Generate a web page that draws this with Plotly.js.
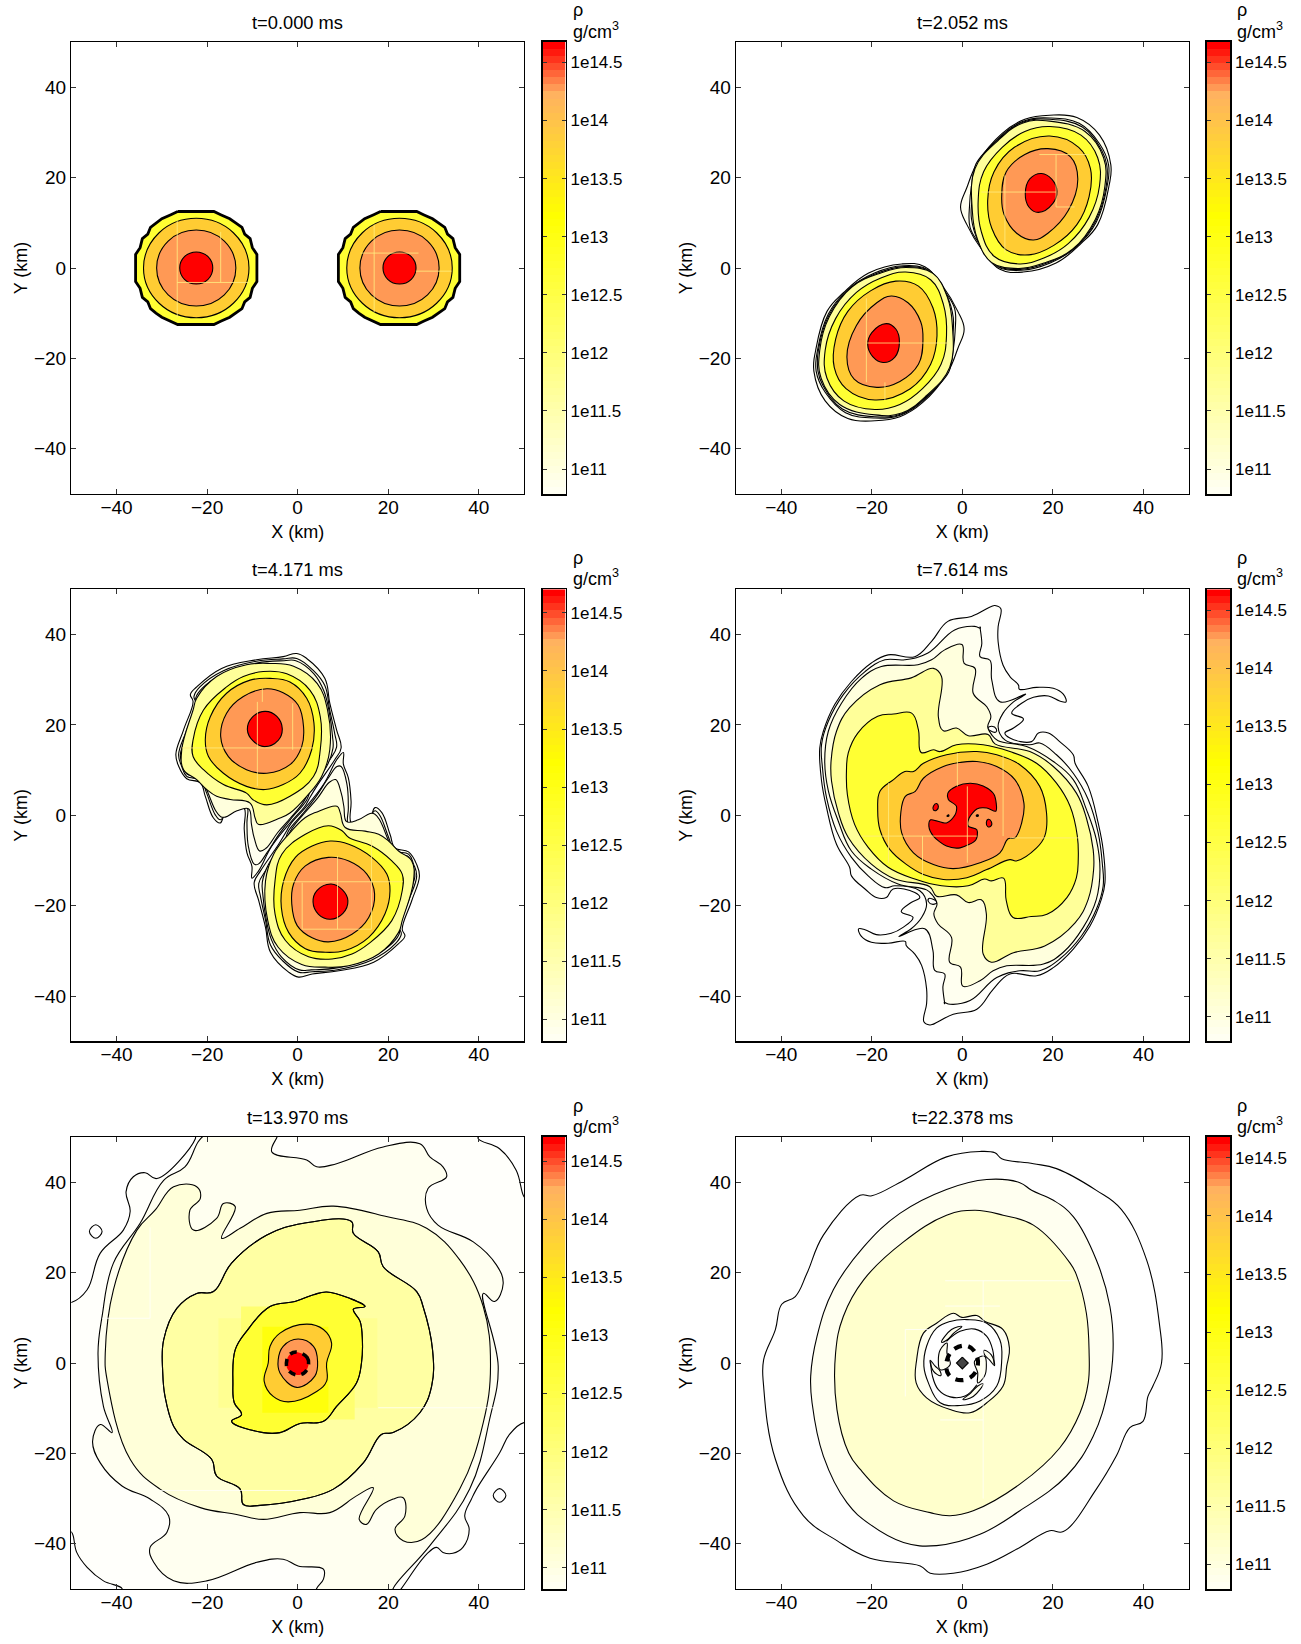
<!DOCTYPE html>
<html><head><meta charset="utf-8">
<script src="https://cdn.plot.ly/plotly-3.0.1.min.js"></script>
<style>html,body{margin:0;padding:0;background:#fff}</style></head>
<body><div id="g" style="width:1301px;height:1644px"></div>
<script>
const titles=['t=0.000 ms','t=2.052 ms','t=4.171 ms','t=7.614 ms','t=13.970 ms','t=22.378 ms'];
const colorTicks=[11,11.5,12,12.5,13,13.5,14,14.5];
const colorTickText=['1e11','1e11.5','1e12','1e12.5','1e13','1e13.5','1e14','1e14.5'];
const colorTop=[14.676,14.676,14.703,14.68,14.708,14.68];
const c0='#fffffb',c1='#fffff0',c2='#ffffdd',c3='#ffff99',c4='#ffff33',gold='#ffcc33',orange='#ff9955',red='#ff0000';
// panel 1
const p1RedL=[-22.4,3.55,-19.8,2.5,-18.75,0,-19.8,-2.5,-22.4,-3.55,-25,-2.5,-26.05,0,-25,2.5];
const p1OrL=[-22.4,8.4,-16.2,5.95,-13.65,0,-16.2,-5.95,-22.4,-8.4,-28.6,-5.95,-31.15,0,-28.6,5.95];
const p1GoL=[-22.4,11,-14.2,7.8,-10.75,0,-14.2,-7.8,-22.4,-11,-30.6,-7.8,-34.05,0,-30.6,7.8];
const p1YeL=[-26.5,12.5,-18.5,12.5,-17,11.8,-15,10.9,-13.7,10,-12.3,9,-11.7,7.5,-10.5,6.5,-10,4.5,-9,3,-9,-3,-10,-4.5,-10.5,-6.5,-11.7,-7.5,-12.3,-9,-13.7,-10,-15,-10.9,-17,-11.8,-18.5,-12.5,-26.5,-12.5,-28,-11.8,-30,-10.9,-31.3,-10,-32.5,-9,-33.1,-7.5,-34.3,-6.5,-34.8,-4.5,-35.8,-3,-35.8,3,-34.8,4.5,-34.3,6.5,-33.1,7.5,-32.5,9,-31.3,10,-30,10.9,-28,11.8];
const p1RedR=[22.5,3.55,25.1,2.5,26.15,0,25.1,-2.5,22.5,-3.55,19.9,-2.5,18.85,0,19.9,2.5];
const p1OrR=[22.5,8.4,28.7,5.95,31.25,0,28.7,-5.95,22.5,-8.4,16.3,-5.95,13.75,0,16.3,5.95];
const p1GoR=[22.5,11,30.7,7.8,34.15,0,30.7,-7.8,22.5,-11,14.3,-7.8,10.85,0,14.3,7.8];
const p1YeR=[18.3,12.5,26.3,12.5,27.8,11.8,29.8,10.9,31.1,10,32.5,9,33.1,7.5,34.3,6.5,34.8,4.5,35.8,3,35.8,-3,34.8,-4.5,34.3,-6.5,33.1,-7.5,32.5,-9,31.1,-10,29.8,-10.9,27.8,-11.8,26.3,-12.5,18.3,-12.5,16.8,-11.8,14.8,-10.9,13.5,-10,12.3,-9,11.7,-7.5,10.5,-6.5,10,-4.5,9,-3,9,3,10,4.5,10.5,6.5,11.7,7.5,12.3,9,13.5,10,14.8,10.9,16.8,11.8];
const p1Amr=[-26.6,10.4,-26.6,-10.9,null,null,-26.6,-3.2,-10.8,-3.2,null,null,-17,8,-17,-3.2,null,null,16.9,9.6,16.9,-9.8,null,null,13.9,3.3,26.7,3.3,null,null,26.1,-0.7,34,-0.7];
// panel 2
const p2RedA=[17.5,20.9,19.8,19.6,20.9,17,20,14.3,16.8,12.3,14.7,13.5,13.9,16.4,14.9,19.7];
const p2OrA=[18.9,26.4,23.9,24.6,25.5,19.7,23.4,12.7,18.9,7.7,15.7,6.2,12,7.7,9.2,11.9,8.7,15.8,9.7,21.3,13.8,25.1];
const p2GoA=[19.3,29.2,25.7,26.7,28.3,22,28,15.8,25.3,9.6,20.2,5,14.7,2.9,9.7,4,6.5,8.8,5.6,15,7,21.3,11.5,26.7];
const p2YeA=[19.3,31.3,26.2,29.4,29.9,24.4,30.3,18.2,28,11.2,23.4,5.4,18,2.2,12.5,0.9,7,2.6,4.2,8,3.5,15,4.7,21.3,8.8,26.7,13.8,30.2];
const p2PaA=[19.3,32.5,27.1,30.2,31.2,24.4,31.5,18.2,29.4,10.8,24.4,4.2,18,1.1,12.5,-0.1,6.5,1.2,3.3,6.5,2.2,12.7,2.8,22,7.9,28.2,13.4,32.1];
const p2InA=[19.3,32.9,26.5,31.2,30.8,26,31.9,22.8,31.8,18.2,29.5,10.5,24.9,4.5,18.7,1.1,12.8,-0.3,7,0.8,3.5,5.9,2,11,2.1,15,2.4,20,3,23,8.1,28.6,13.5,32.3];
const p2MiA=[19.3,33.2,25.8,32,30.3,27.5,32.3,22.8,32,18.2,29.6,10.2,25.3,4.8,19.4,1.1,13,-0.5,7.4,0.5,3.8,5.3,1.7,9,1.6,14,2,18,3,22.6,8.3,29,13.6,32.5];
const p2OuA=[19.3,33.8,25.3,33.3,30.3,29.4,32.8,22.8,32.4,18.2,29.9,9.6,26.2,5.4,20.7,1.1,13.4,-0.9,8.3,-0.3,4.2,4.2,1,9.6,-0.4,13.5,1,17.8,3.3,23.2,8.8,29.8,13.8,32.9];
const p2RedB=[-17.5,-20.9,-19.8,-19.6,-20.9,-17,-20,-14.3,-16.8,-12.3,-14.7,-13.5,-13.9,-16.4,-14.9,-19.7];
const p2OrB=[-18.9,-26.4,-23.9,-24.6,-25.5,-19.7,-23.4,-12.7,-18.9,-7.7,-15.7,-6.2,-12,-7.7,-9.2,-11.9,-8.7,-15.8,-9.7,-21.3,-13.8,-25.1];
const p2GoB=[-19.3,-29.2,-25.7,-26.7,-28.3,-22,-28,-15.8,-25.3,-9.6,-20.2,-5,-14.7,-2.9,-9.7,-4,-6.5,-8.8,-5.6,-15,-7,-21.3,-11.5,-26.7];
const p2YeB=[-19.3,-31.3,-26.2,-29.4,-29.9,-24.4,-30.3,-18.2,-28,-11.2,-23.4,-5.4,-18,-2.2,-12.5,-0.9,-7,-2.6,-4.2,-8,-3.5,-15,-4.7,-21.3,-8.8,-26.7,-13.8,-30.2];
const p2PaB=[-19.3,-32.5,-27.1,-30.2,-31.2,-24.4,-31.5,-18.2,-29.4,-10.8,-24.4,-4.2,-18,-1.1,-12.5,0.1,-6.5,-1.2,-3.3,-6.5,-2.2,-12.7,-2.8,-22,-7.9,-28.2,-13.4,-32.1];
const p2InB=[-19.3,-32.9,-26.5,-31.2,-30.8,-26,-31.9,-22.8,-31.8,-18.2,-29.5,-10.5,-24.9,-4.5,-18.7,-1.1,-12.8,0.3,-7,-0.8,-3.5,-5.9,-2,-11,-2.1,-15,-2.4,-20,-3,-23,-8.1,-28.6,-13.5,-32.3];
const p2MiB=[-19.3,-33.2,-25.8,-32,-30.3,-27.5,-32.3,-22.8,-32,-18.2,-29.6,-10.2,-25.3,-4.8,-19.4,-1.1,-13,0.5,-7.4,-0.5,-3.8,-5.3,-1.7,-9,-1.6,-14,-2,-18,-3,-22.6,-8.3,-29,-13.6,-32.5];
const p2OuB=[-19.3,-33.8,-25.3,-33.3,-30.3,-29.4,-32.8,-22.8,-32.4,-18.2,-29.9,-9.6,-26.2,-5.4,-20.7,-1.1,-13.4,0.9,-8.3,0.3,-4.2,-4.2,-1,-9.6,0.4,-13.5,-1,-17.8,-3.3,-23.2,-8.8,-29.8,-13.8,-32.9];
const p2Amr=[9.4,20.5,9.4,3.4,null,null,4.2,16.8,20.7,16.8,null,null,20.7,25.1,20.7,13.5,null,null,20.7,13.5,24.8,13.5,null,null,17,25.1,28,25.1,null,null,-21,-16.6,-3.1,-16.6,null,null,-21.2,-6.7,-21.2,-25.3,null,null,-17.1,-25.3,-17.1,-29.2];
// panel 3
const p3RedA=[-7.2,23,-4.6,21.9,-3.4,19.2,-4.3,16.6,-7.4,15.2,-9.9,16.5,-11.1,18.9,-10,21.7];
const p3OrA=[-6.8,28,-3.2,27.1,0.1,24.4,1.3,19.6,0.9,15.2,-1.7,11.2,-6.8,9.3,-11.3,10.1,-15.3,13,-17,17.4,-15.7,22.6,-12,26.3];
const p3GoA=[-6.1,30.3,-1.7,29.5,2,25.9,3.6,20.4,3.1,14.5,0.5,9.3,-3.2,6.8,-7.2,5.7,-11.3,6.4,-16.4,9.3,-19.7,13,-20.4,16.7,-19.3,21.8,-15.7,27,-10.5,29.9];
const p3YeA=[-7.6,31.8,-2.4,31.3,2.7,27.7,5,21.8,5,14.5,3.5,8.6,-1.7,4.2,-6.8,2.3,-9.8,3.4,-11.3,4.9,-16.4,6.8,-20.8,10.1,-23.1,13,-23.1,16.7,-20.8,23.3,-15.7,28.4,-12,30.7];
const p3PaA=[-6.1,33.6,-0.9,33,4.3,29.2,6.6,23.3,7.1,14.5,5.3,8.6,2,4.2,-1.7,0.5,-3.9,-0.6,-8.7,-2,-9.4,-0.6,-10.5,2.7,-14.9,3.5,-17.9,4.2,-20.1,5.7,-22.3,7.9,-25.2,10.1,-25.6,14.5,-23.1,23.3,-22.3,25.9,-17.9,30.7,-11.3,33.3];
const p3InA=[-0.4,34.2,3.6,31.3,5.8,27.5,7,22.7,7.7,17.5,7.8,14.8,6.4,10.8,3,6.2,1.2,2.8,-1.6,-0.6,-4.4,-3.8,-7,-7.3,-8.4,-7.9,-9.6,-5,-10.2,-2,-10.8,1.4,-13.4,1,-16,-0.4,-17,-0.3,-18.1,1,-19.9,5.2,-21.3,8.3,-24.5,9.2,-25.6,11.7,-25.9,13.5,-24,19,-22.3,24.6,-22.5,26,-21,28.2,-16,31.5,-9,33.7,-3,34.2];
const p3MiA=[-0.2,34.7,3.4,32.1,6,28.7,7.1,23.2,8.2,18,8.6,15.1,7.1,12.3,3.4,7.2,2,3.4,-1,-0.2,-3.9,-3.9,-6.8,-8.3,-8.7,-10.8,-9.6,-10.8,-10.9,-6.8,-11.2,-1.7,-11.2,1.8,-13.4,1.4,-16,0.1,-17.1,-1,-18.2,0.1,-20.1,4.9,-21.4,7.8,-24.5,8.6,-25.6,10.8,-26.3,13.4,-24.5,18.9,-22.5,24.8,-22.9,26.3,-21.6,28.4,-16.4,32,-9.1,34.1,-3.2,34.6];
const p3OuA=[-0.2,35.8,2,34.7,6,30.3,7.1,24.8,8.6,18.9,9.6,14.9,8.2,12.3,4.2,6.4,2.4,3.4,1.6,2,-1.7,-1.7,-5.7,-6.8,-8.7,-12.4,-10.1,-13.9,-10.1,-11.3,-11.2,-8.3,-11.8,-3.1,-11.8,1.6,-13.4,2.1,-16,0.5,-17.1,-1.7,-18.6,-0.6,-20.4,4.2,-21.5,7.2,-24.5,8.1,-26.3,10.9,-26.9,13.5,-25.2,18.9,-23.1,25.2,-23.7,26.7,-22.3,28.4,-16.8,32.5,-9.1,34.4,-3.2,35.1];
const p3RedB=[7.2,-23,4.6,-21.9,3.4,-19.2,4.3,-16.6,7.4,-15.2,9.9,-16.5,11.1,-18.9,10,-21.7];
const p3OrB=[6.8,-28,3.2,-27.1,-0.1,-24.4,-1.3,-19.6,-0.9,-15.2,1.7,-11.2,6.8,-9.3,11.3,-10.1,15.3,-13,17,-17.4,15.7,-22.6,12,-26.3];
const p3GoB=[6.1,-30.3,1.7,-29.5,-2,-25.9,-3.6,-20.4,-3.1,-14.5,-0.5,-9.3,3.2,-6.8,7.2,-5.7,11.3,-6.4,16.4,-9.3,19.7,-13,20.4,-16.7,19.3,-21.8,15.7,-27,10.5,-29.9];
const p3YeB=[7.6,-31.8,2.4,-31.3,-2.7,-27.7,-5,-21.8,-5,-14.5,-3.5,-8.6,1.7,-4.2,6.8,-2.3,9.8,-3.4,11.3,-4.9,16.4,-6.8,20.8,-10.1,23.1,-13,23.1,-16.7,20.8,-23.3,15.7,-28.4,12,-30.7];
const p3PaB=[6.1,-33.6,0.9,-33,-4.3,-29.2,-6.6,-23.3,-7.1,-14.5,-5.3,-8.6,-2,-4.2,1.7,-0.5,3.9,0.6,8.7,2,9.4,0.6,10.5,-2.7,14.9,-3.5,17.9,-4.2,20.1,-5.7,22.3,-7.9,25.2,-10.1,25.6,-14.5,23.1,-23.3,22.3,-25.9,17.9,-30.7,11.3,-33.3];
const p3InB=[0.4,-34.2,-3.6,-31.3,-5.8,-27.5,-7,-22.7,-7.7,-17.5,-7.8,-14.8,-6.4,-10.8,-3,-6.2,-1.2,-2.8,1.6,0.6,4.4,3.8,7,7.3,8.4,7.9,9.6,5,10.2,2,10.8,-1.4,13.4,-1,16,0.4,17,0.3,18.1,-1,19.9,-5.2,21.3,-8.3,24.5,-9.2,25.6,-11.7,25.9,-13.5,24,-19,22.3,-24.6,22.5,-26,21,-28.2,16,-31.5,9,-33.7,3,-34.2];
const p3MiB=[0.2,-34.7,-3.4,-32.1,-6,-28.7,-7.1,-23.2,-8.2,-18,-8.6,-15.1,-7.1,-12.3,-3.4,-7.2,-2,-3.4,1,0.2,3.9,3.9,6.8,8.3,8.7,10.8,9.6,10.8,10.9,6.8,11.2,1.7,11.2,-1.8,13.4,-1.4,16,-0.1,17.1,1,18.2,-0.1,20.1,-4.9,21.4,-7.8,24.5,-8.6,25.6,-10.8,26.3,-13.4,24.5,-18.9,22.5,-24.8,22.9,-26.3,21.6,-28.4,16.4,-32,9.1,-34.1,3.2,-34.6];
const p3OuB=[0.2,-35.8,-2,-34.7,-6,-30.3,-7.1,-24.8,-8.6,-18.9,-9.6,-14.9,-8.2,-12.3,-4.2,-6.4,-2.4,-3.4,-1.6,-2,1.7,1.7,5.7,6.8,8.7,12.4,10.1,13.9,10.1,11.3,11.2,8.3,11.8,3.1,11.8,-1.6,13.4,-2.1,16,-0.5,17.1,1.7,18.6,0.6,20.4,-4.2,21.5,-7.2,24.5,-8.1,26.3,-10.9,26.9,-13.5,25.2,-18.9,23.1,-25.2,23.7,-26.7,22.3,-28.4,16.8,-32.5,9.1,-34.4,3.2,-35.1];
const p3Amr=[-25.6,14.9,3.5,14.9,null,null,-8.9,25.1,-8.9,6.4,null,null,-7.8,28.1,-7.8,25.1,null,null,-1.1,24.8,-1.1,14.5,null,null,-3.5,-14.7,23.3,-14.7,null,null,8.8,-9,8.8,-25.2,null,null,1,-14.9,1,-25.2,null,null,1,-25.2,16.3,-25.2,null,null,16.3,-5.4,16.3,-25.2];
// panel 4
const p4C0=[7.2,46.4,8.5,45.7,7.9,41.7,7.9,38.4,9,33.2,10.5,30.7,12.4,28.8,12.6,27.9,16.4,28.3,20.1,28.1,22.3,26.8,22.9,25.1,21.5,25.3,19,26.4,15.7,26.1,13.1,24.8,10.9,22.6,13.5,21.3,11.3,19.3,9.4,18.2,10.5,17.1,15.3,16.3,16.8,18.2,19,18.2,21.5,16.3,24.5,13.4,24.9,11.5,27.8,6.4,30,-1.7,31.1,-7.6,31.5,-14.9,30.7,-18.6,28.2,-24.5,24.5,-29.6,20.1,-33.7,16.4,-35.5,10.5,-35.1,6.8,-38.5,3.2,-42.9,-2,-44,-6.4,-46.2,
-7.2,-46.4,-8.5,-45.7,-7.9,-41.7,-7.9,-38.4,-9,-33.2,-10.5,-30.7,-12.4,-28.8,-12.6,-27.9,-16.4,-28.3,-20.1,-28.1,-22.3,-26.8,-22.9,-25.1,-21.5,-25.3,-19,-26.4,-15.7,-26.1,-13.1,-24.8,-10.9,-22.6,-13.5,-21.3,-11.3,-19.3,-9.4,-18.2,-10.5,-17.1,-15.3,-16.3,-16.8,-18.2,-19,-18.2,-21.5,-16.3,-24.5,-13.4,-24.9,-11.5,-27.8,-6.4,-30,1.7,-31.1,7.6,-31.5,14.9,-30.7,18.6,-28.2,24.5,-24.5,29.6,-20.1,33.7,-16.4,35.5,-10.5,35.1,-6.8,38.5,-3.2,42.9,2,44,6.4,46.2];
const p4C1=[3.9,41.7,4.3,38,3.9,35.1,6.1,34.3,6.5,29.9,8.3,25.1,14,26.8,11.3,25.1,9,22.6,7.9,19.6,9.4,16.7,14.9,15.6,17.1,16,20.8,13.4,24.5,9.3,27.8,3.5,30,-3.9,30.9,-10.5,31.1,-15.7,29.6,-20.8,26.3,-26.7,21.5,-31.8,17.1,-34.4,12.7,-34.4,7.6,-35.9,1.7,-41,-2.7,-41.8,-4,-41.4,
-3.9,-41.7,-4.3,-38,-3.9,-35.1,-6.1,-34.3,-6.5,-29.9,-8.3,-25.1,-14,-26.8,-11.3,-25.1,-9,-22.6,-7.9,-19.6,-9.4,-16.7,-14.9,-15.6,-17.1,-16,-20.8,-13.4,-24.5,-9.3,-27.8,-3.5,-30,3.9,-30.9,10.5,-31.1,15.7,-29.6,20.8,-26.3,26.7,-21.5,31.8,-17.1,34.4,-12.7,34.4,-7.6,35.9,-1.7,41,2.7,41.8,4,41.4];
const p4C2=[-0.1,37.8,0.4,33.6,2.8,32.5,2.4,27,5.4,24,6.3,21.8,5.6,19.6,6.5,17.8,7.9,16.5,14.2,15.2,20.1,11.9,24.5,7.9,27.4,1.3,29.6,-5.4,30.4,-12,29.6,-18.6,26.7,-24.8,22.3,-30.3,17.9,-32.9,9.8,-33.3,6.8,-34.4,3.9,-36.6,
0.1,-37.8,-0.4,-33.6,-2.8,-32.5,-2.4,-27,-5.4,-24,-6.3,-21.8,-5.6,-19.6,-6.5,-17.8,-7.9,-16.5,-14.2,-15.2,-20.1,-11.9,-24.5,-7.9,-27.4,-1.3,-29.6,5.4,-30.4,12,-29.6,18.6,-26.7,24.8,-22.3,30.3,-17.9,32.9,-9.8,33.3,-6.8,34.4,-3.9,36.6];
const p4C3=[-6.4,32.5,-4.6,30.7,-5.3,21.8,-4.2,18.7,-1.3,19.3,1.3,17.6,5.7,17.9,7.2,15.8,14.9,14.1,20.1,10.8,25.2,4.9,27.4,-0.6,28.9,-7.6,29,-12,27.8,-18.6,24.9,-23.8,18.2,-28.9,11.3,-30.4,
6.4,-32.5,4.6,-30.7,5.3,-21.8,4.2,-18.7,1.3,-19.3,-1.3,-17.6,-5.7,-17.9,-7.2,-15.8,-14.9,-14.1,-20.1,-10.8,-25.2,-4.9,-27.4,0.6,-28.9,7.6,-29,12,-27.8,18.6,-24.9,23.8,-18.2,28.9,-11.3,30.4];
const p4C4=[-15.2,22.4,-11.2,22.6,-9.7,18.9,-9.1,13.9,-6.4,14.5,-4.9,14.1,-1.3,15.6,4.6,15.6,10.5,14.1,16.4,11.5,20.8,7.1,23.8,2,25.4,-4.6,25.6,-9.8,25.2,-13.8,23.1,-18.2,18.7,-21.9,
15.2,-22.4,11.2,-22.6,9.7,-18.9,9.1,-13.9,6.4,-14.5,4.9,-14.1,1.3,-15.6,-4.6,-15.6,-10.5,-14.1,-16.4,-11.5,-20.8,-7.1,-23.8,-2,-25.4,4.6,-25.6,9.8,-25.2,13.8,-23.1,18.2,-18.7,21.9];
const p4Go=[3.2,14.1,7.6,13.4,12.7,11.2,17.1,6.4,18.6,0.5,18.2,-4.6,16.4,-7.2,11.9,-10.1,10.5,-9.8,5.4,-12,1,-13.8,-4.2,-14.2,-8.6,-13.1,-12.3,-10.9,-16,-7.6,-18.2,-3.2,-18.7,1.3,-18.2,5.3,-15.2,7.9,-12.7,9.7,-10.8,9.7,-8.6,11.5,-3.5,13.4];
const p4Or=[3.2,11.9,7.6,10.8,11.6,7.9,13.6,2.7,13.1,-1.7,11.6,-5,10.1,-5.2,8.3,-8.3,3.9,-10.5,-2,-11.8,-6.4,-10.9,-10.8,-8.3,-13.4,-3.9,-13.6,0.5,-12.6,4.2,-10.4,5.3,-8.6,8.2,-4.2,10.8,-0.5,11.7];
const p4Red=[1.7,7.1,4.6,6.5,7,4.6,7.4,0.9,5.4,1.6,3.2,1.4,1.5,-0.6,1.3,-2.4,3.2,-3.2,3,-5.4,-0.5,-7.2,-3.5,-6.8,-6.4,-4.6,-7.4,-2.4,-7,-1,-3.5,-1.7,-1.6,0.1,-1.3,2,-3.1,3.5,-3.2,4.9,-1.3,6.4];
const p4Isl1=[6.5,19.7,7.5,19.1,7.4,18.4,6.2,18.7,5.6,19.3];
const p4Isl2=[-6.5,-19.7,-7.5,-19.1,-7.4,-18.4,-6.2,-18.7,-5.6,-19.3];
const p4RedI1=[-5.7,2.6,-5.3,2,-5.7,1.1,-6.4,1.2,-6.4,2];
const p4RedI2=[5.7,-0.9,6.4,-1.4,6.3,-2.4,5.6,-2.5,5.3,-1.6];
const p4Dot1=[-3.3,0,-3,0.1,-3,-0.2,-3.4,-0.2];
const p4Dot2=[3.1,0,3.5,0.1,3.5,-0.2,3.1,-0.2];
const p4Amr=[-22.2,-4.6,3.2,-4.6,null,null,10.5,-5,25.6,-5,null,null,-8.8,-4.6,-8.8,-14.2,null,null,-16.3,7.1,-16.3,-10.5,null,null,9,13.8,9,-4.6,null,null,-1.1,13.8,-1.1,6.4,null,null,1.1,6.4,1.1,-10.5];
// panel 5
const p5C0=[-22.6,51,39.9,51,39.9,49.6,44.6,47.4,48.3,42.6,50,36.8,51,36,51,-13.5,50,-13.2,46.8,-15.8,44.6,-19.9,39.5,-27.9,38.4,-30.1,36.9,-33.8,37.9,-36.8,36.5,-40.8,34.3,-42.1,32.1,-41.9,30.7,-40.8,28.5,-42.3,22.9,-49.9,22,-51,-39,-51,-38.8,-49.9,-42.9,-48.2,-46.5,-45.2,-48.8,-41.9,-49.9,-37.5,-51,-37,-51,13.5,-50,13.4,-46.5,16.2,-43.6,24.3,-38.5,29.4,-37,33.5,-37.9,37.9,-36.3,41.2,-33.7,42.1,-31.1,40.8,-22.6,49.6];
const p5C1=[-20.1,50.7,-4.3,50.7,-4.6,49.9,-5.7,46.7,2,44.9,4.2,43.4,8.6,44.1,18.9,47.8,27,48.5,29.2,45.6,32.1,43.4,32.9,41.2,28.8,38.6,28.5,34.2,31,30.5,38.8,26.8,43.9,21.7,45.4,17.6,43.5,13.6,41,15.4,44.3,-0.7,42.4,-12.5,38,-27.9,29.2,-40.4,21.1,-49.9,21,-51,4,-51,4.2,-49.9,5.7,-47.8,5.7,-45.6,0.1,-44.9,-3.2,-43.4,-9,-44.1,-20.1,-48.2,-27.4,-48.2,-31.8,-44.1,-32.6,-40.8,-28.9,-37.5,-28.5,-33.8,-32.6,-30.1,-38.8,-27.2,-43.6,-22.1,-45.3,-17.3,-43.6,-13.6,-41,-15.4,-42.9,-9.6,-44.1,2.2,-43.2,10.3,-40.7,22.1,-34.8,30.9,-29.6,40.4,-24.9,43.4];
const p5C2=[-42.5,2.2,-40.7,16.2,-35.5,29.4,-31.5,33.8,-27.4,39,-22.3,39,-21.5,36.4,-23.8,33.8,-23,29.4,-17.9,32,-16.4,35.3,-13.8,34.6,-16.8,27.6,-12.7,29.8,-6.8,33.1,0.5,33.8,7.9,34.7,19.6,32.4,28.5,29.8,35.8,22.8,41,12.5,42.6,-0.7,41,-13.2,35.8,-27.9,27.4,-39.1,23.3,-39.3,21.5,-36.8,23.7,-33.8,23.3,-29.8,21.1,-30.1,17.4,-32.4,15.2,-35.7,13.6,-34.6,16.7,-27.6,13,-29.4,7.1,-33.1,0.5,-33.1,-7.6,-34.6,-13.5,-33.5,-21.5,-32,-30.4,-27.9,-37,-21.3,-42.1,-3.7];
const p5C3=[-29.6,5.1,-26.7,12.1,-22.3,15.4,-18.6,15.8,-14.6,22.1,-6.8,28.3,1.3,30.9,11.9,31.3,12.3,28.7,17.8,24.6,18.9,21.3,26.3,15.8,27.7,12.5,29.8,2.9,29.6,-5.1,27,-11,21.1,-15.4,18.5,-15.8,14.5,-22.1,7.9,-27.9,1.3,-30.1,-8.3,-31.5,-12,-31.3,-12.7,-27.9,-17.9,-25,-19,-21.3,-25.2,-16.9,-27.4,-14,-29.3,-7.4,-29.8,-2.2];
const p5C4=[-13.8,2.9,-11.3,7,-6.1,12.5,-0.6,13.6,3.5,15.1,6.4,15.7,11.5,14.3,14.9,12.5,12.3,11.9,13.8,9.2,14.3,5.1,14.1,0,13,-4.4,8.6,-9.6,5.7,-12.9,0.5,-13.4,-3.9,-15.4,-7.6,-15.4,-14.6,-12.9,-12.4,-11.4,-14,-8.8,-14.3,-4.4];
const p5Go=[-6.1,3.7,-3.9,6.6,2,8.6,5.7,7.4,7.5,4.4,6.4,0,6.4,-4,4.2,-6.3,-2.1,-8.6,-5.4,-7.4,-7.4,-4,-6.5,0];
const p5Or=[0.1,5.3,3.5,3.7,4.4,0.4,3.8,-2.9,-0.2,-5.4,-3.9,-2.2,-4.3,0.7,-3.2,3.7];
const p5Red=[0,2.4,2.1,1.2,2.4,-0.4,1.4,-2.2,-0.4,-2.6,-2.2,-1.4,-2.4,0.6,-1.6,2];
const p5Isl1=[-44.6,30.6,-43.2,29.1,-44.6,27.6,-46,29.1];
const p5Isl2=[44.6,-27.8,46,-29.3,44.6,-30.8,43.2,-29.3];
const p5BlockA=[-17.5,9.9,17.6,9.9,17.6,-9.9,-17.5,-9.9];
const p5BlockB=[-12.5,12.5,12.6,12.5,12.6,-12.5,-12.5,-12.5];
const p5BlockC=[-7.8,8,6.8,8,6.8,-11,-7.8,-11];
const p5Amr=[-43.2,9.9,-32.6,9.9,null,null,-32.6,30,-32.6,9.9,null,null,-30.4,-28.2,2,-28.2,null,null,17.8,-9.9,43.2,-9.9];
// panel 6
const p6C0=[3.9,46.8,7.2,46.5,8.7,45.2,15.7,44.1,20.8,43,29.6,38.2,35.1,34,40.7,22.8,43.6,8.1,44,0,42.1,-5.1,41,-7.4,39.9,-12.9,37,-14.3,34,-20.6,29.6,-27.9,22.3,-37.3,19.3,-37.1,12.7,-40.8,5.4,-44.5,-2,-46.5,-7.1,-46.5,-9.3,-44.9,-20.4,-43.2,-27.7,-39.3,-35.1,-33.8,-41.3,-21.3,-43.9,-5.1,-43.9,0.7,-41.3,7.4,-39.9,13,-36.9,14.7,-34.3,19.9,-30.7,28.3,-22.6,37.1,-20,37,-13,40.4,-3.5,45.6];
const p6C1=[5.4,40.6,12.7,39.9,15.3,38.2,20.1,36,24.5,32.4,29.6,22.8,32.6,12.5,33.3,2.9,32.2,-5.9,28.9,-16.2,23,-25,12.7,-32.7,3.9,-37.9,-5.7,-40.4,-13,-39.7,-20.4,-35.7,-25.5,-30.9,-30.7,-20.6,-33.2,-8.8,-33.5,-2.9,-32.1,5.9,-28.5,16.2,-21.8,25.7,-13.8,33.1,-3.5,38.4];
const p6C2=[2.8,33.8,9,32.7,15.7,30.5,23.8,22.1,25.2,19.5,27.4,11,28,2.2,27.8,-4.4,26,-11,21.5,-18.8,12.7,-26.8,2.4,-32.7,-2.7,-33.8,-7.1,-33.1,-15.2,-30.5,-22.6,-23.5,-25.1,-19.9,-27.7,-10.3,-28,2.2,-26.3,10.3,-21.8,18.4,-13,26.8,-3.5,32.7];
const p6C3=[-2,11,-0.1,10.1,3.2,10.5,5,9.2,9,7.4,10.4,3.3,9.8,-0.7,9,-5.1,5.4,-8.8,1.7,-11,-2.7,-10.3,-7.9,-7.7,-10.2,-4.4,-10.1,0.7,-8.6,6.6,-5.7,8.8];
const p6C4=[-2.7,9.2,1,9.6,5.4,8.8,8.3,5.1,8.7,0.7,7.6,-5.1,3.9,-8.4,-0.5,-9.4,-4.9,-8.8,-7.5,-4.4,-8.5,-0.7,-7.9,3.7,-5.7,7.7];
const p6ArmA=[-0.1,8.1,-2.4,7.4,-4.6,4.6,-3.4,5.1,-1.9,6.6];
const p6ArmB=[-3.4,4.4,-4.9,2.9,-5.3,0.7,-4.9,-1.5,-2.7,-0.4,-3.4,2.2];
const p6ArmC=[-7.1,0.6,-6.4,-1.8,-4.8,-2.8,-4.9,-1.8,-6,-0.7];
const p6ArmD=[0.1,-8.1,2.4,-7.4,4.6,-4.6,3.4,-5.1,1.9,-6.6];
const p6ArmE=[3.4,-4.4,4.9,-2.9,5.3,-0.7,4.9,1.5,2.7,0.4,3.4,-2.2];
const p6ArmF=[7.1,-0.6,6.4,1.8,4.8,2.8,4.9,1.8,6,0.7];
const p6CurveA=[-3.5,4.8,-0.5,7,2.8,7.5,5.4,5.9,6.7,2.9,7,-0.4];
const p6CurveB=[3.2,-4.8,0.6,-7.3,-2.7,-7.5,-5.3,-5.9,-6.6,-2.9,-7,0.4];
const p6Ring=[-1.6,3.2,1.3,3.7,3.3,1.3,2.8,-2.2,0,-3.8,-3,-2.6,-3.4,0.6];
const p6Core=[0,1.3,1.3,0,0,-1.3,-1.3,0];
const p6Amr=[-3.8,18.2,24.9,18.2,null,null,4.6,18.2,4.6,-30,null,null,-12.6,7.4,-7.5,7.4,null,null,-12.6,7.4,-12.6,-7.4,null,null,-3.8,12.6,8.3,12.6,null,null,-4.9,-12.6,4.6,-12.6];
// colorbar
const bandIndex=[0,39,56,57,63];
const bandColor=['#fffff2','#ffff00','#ffb25f','#ff9955','#ff0000'];

const A=(a,c,o)=>Object.assign({a,c},o||{});
const p5Pale='#ffffa3',p5Mid='#ffffd9';
const panels=[
 {layers:[A(p1YeL,c4,{w:2.8,lin:1}),A(p1GoL,gold),A(p1OrL,orange),A(p1RedL,red),A(p1YeR,c4,{w:2.8,lin:1}),A(p1GoR,gold),A(p1OrR,orange),A(p1RedR,red)],amr:p1Amr,amrC:'rgba(255,240,130,.8)'},
 {layers:[A(p2OuA,c1),A(p2MiA,c1),A(p2InA,c2),A(p2PaA,c3),A(p2YeA,c4),A(p2GoA,gold),A(p2OrA,orange),A(p2RedA,red),A(p2OuB,c1),A(p2MiB,c1),A(p2InB,c2),A(p2PaB,c3),A(p2YeB,c4),A(p2GoB,gold),A(p2OrB,orange),A(p2RedB,red)],amr:p2Amr,amrC:'rgba(255,235,130,.8)'},
 {layers:[A(p3OuA,c1),A(p3MiA,c1),A(p3InA,c2),A(p3PaA,c3),A(p3YeA,c4),A(p3GoA,gold),A(p3OrA,orange),A(p3RedA,red),A(p3OuB,c1),A(p3MiB,c1),A(p3InB,c2),A(p3PaB,c3),A(p3YeB,c4),A(p3GoB,gold),A(p3OrB,orange),A(p3RedB,red)],amr:p3Amr,amrC:'rgba(255,235,130,.8)'},
 {layers:[A(p4C0,c0),A(p4C1,c1),A(p4Isl1,c0),A(p4Isl2,c0),A(p4C2,c2),A(p4C3,c3),A(p4C4,c4),A(p4Go,gold),A(p4Or,orange),A(p4Red,red,{s:.8}),A(p4RedI1,red),A(p4RedI2,red),A(p4Dot1,'#000'),A(p4Dot2,'#000')],amr:p4Amr,amrC:'rgba(255,235,130,.8)'},
 {layers:[A(p5C0,c0),A(p5Isl1,'#fff'),A(p5Isl2,'#fff'),A(p5C1,c1),A(p5C2,p5Mid),A(p5C3,p5Pale),A(p5BlockA,'#ffff92',{nl:1,lin:1}),A(p5BlockB,'#ffff70',{nl:1,lin:1}),A(p5C4,c4),A(p5BlockC,'#ffff0c',{nl:1,lin:1}),A(p5Go,gold),A(p5Or,orange),A(p5Red,red,{w:3.6,dash:'7px,6px'})],amr:p5Amr,amrC:'rgba(255,255,255,.75)',outline:[p5C3,p5C4]},
 {layers:[A(p6C0,'#ffffff'),A(p6C1,c1),A(p6C2,'#ffffcc'),A(p6C3,c1),A(p6C4,'#ffffff'),A(p6ArmA,c1),A(p6ArmB,c1),A(p6ArmC,c1),A(p6ArmD,c1),A(p6ArmE,c1),A(p6ArmF,c1),A(p6CurveA,null,{open:1}),A(p6CurveB,null,{open:1}),A(p6Ring,null,{w:4.2,dash:'8px,7px'}),A(p6Core,'#444444',{lin:1})],amr:p6Amr,amrC:'rgba(255,255,255,.75)'}
];
const colL=[71.3,736],cbL=[542.5,1207],rowT=[42,589.3,1137];
const W=1301,H=1644,PW=452.7,PH=452,CW=23,SM=1.15;
const font='"Liberation Sans",Arial,sans-serif';
const traces=[],annotations=[],layout={width:W,height:H,margin:{l:0,r:0,t:0,b:0},paper_bgcolor:'#fff',plot_bgcolor:'#fff',showlegend:false,font:{family:font,size:18,color:'#000'},hovermode:false};
const split=a=>{const x=[],y=[];for(let i=0;i<a.length;i+=2){x.push(a[i]);y.push(a[i+1]);}return{x,y};};
const stops=bandIndex.map((b,i)=>[b/63,bandColor[i]]);
panels.forEach((p,i)=>{
 const col=i%2,row=(i-col)/2,n=2*i+1,m=2*i+2;
 const xa='x'+n,ya='y'+n,xb='x'+m,yb='y'+m;
 const top=rowT[row],bot=top+PH;
 const base={showgrid:false,zeroline:false,showline:true,linecolor:'#000',linewidth:1.3,ticks:'inside',ticklen:5,tickwidth:1,tickcolor:'#333',mirror:'allticks',tickfont:{size:19}};
 layout['xaxis'+n]=Object.assign({},base,{domain:[colL[col]/W,(colL[col]+PW)/W],anchor:ya,range:[-50,50],tick0:0,dtick:20,ticklabelstandoff:-4,title:{text:'X (km)',font:{size:18},standoff:8}});
 layout['yaxis'+n]=Object.assign({},base,{domain:[1-bot/H,1-top/H],anchor:xa,range:[-50,50],tick0:0,dtick:20,title:{text:'Y (km)',font:{size:18},standoff:1}});
 layout['xaxis'+m]={domain:[cbL[col]/W,(cbL[col]+CW)/W],anchor:yb,range:[0,1],showgrid:false,zeroline:false,showticklabels:false,ticks:'',showline:true,mirror:true,linecolor:'#000',linewidth:1.6};
 const lo=colorTop[i]-3.891,hi=colorTop[i];
 layout['yaxis'+m]={domain:[1-bot/H,1-top/H],anchor:xb,side:'right',range:[lo,hi],tickvals:colorTicks,ticktext:colorTickText,showgrid:false,zeroline:false,showline:true,linecolor:'#000',linewidth:1.6,ticks:'inside',ticklen:4,tickwidth:1,tickcolor:'#333',mirror:'allticks',tickfont:{size:17}};
 p.layers.forEach(l=>{
  const s=split(l.a);
  if(!l.open){s.x.push(s.x[0]);s.y.push(s.y[0]);}
  const t={type:'scatter',mode:'lines',xaxis:xa,yaxis:ya,x:s.x,y:s.y,hoverinfo:'skip',line:{color:l.nl?'rgba(0,0,0,0)':'#000',width:l.nl?0:(l.w||1.1),shape:l.lin?'linear':'spline',smoothing:l.s||SM,dash:l.dash||'solid'}};
  if(l.c){t.fill='toself';t.fillcolor=l.c;}
  traces.push(t);
 });
 (p.outline||[]).forEach(a=>{const s=split(a);s.x.push(s.x[0]);s.y.push(s.y[0]);traces.push({type:'scatter',mode:'lines',xaxis:xa,yaxis:ya,x:s.x,y:s.y,hoverinfo:'skip',line:{color:'#000',width:1.1,shape:'spline',smoothing:SM}});});
 const am=split(p.amr);
 traces.push({type:'scatter',mode:'lines',xaxis:xa,yaxis:ya,x:am.x,y:am.y,hoverinfo:'skip',line:{color:p.amrC,width:1}});
 const edges=[],z=[];
 for(let k=0;k<=64;k++)edges.push(lo+(hi-lo)*k/64);
 for(let k=0;k<64;k++)z.push([k]);
 traces.push({type:'heatmap',xaxis:xb,yaxis:yb,x:[0,1],y:edges,z,zmin:0,zmax:63,colorscale:stops,showscale:false,hoverinfo:'skip'});
 annotations.push({xref:'paper',yref:'paper',x:(colL[col]+PW/2)/W,y:1-(top-19.5)/H,text:titles[i],showarrow:false,xanchor:'center',yanchor:'middle',font:{size:18.3}});
 annotations.push({xref:'paper',yref:'paper',x:(cbL[col]+28)/W,y:1-(top-31.5)/H,text:'ρ',showarrow:false,xanchor:'left',yanchor:'middle',font:{size:18}});
 annotations.push({xref:'paper',yref:'paper',x:(cbL[col]+28)/W,y:1-(top-12)/H,text:'g/cm<sup>3</sup>',showarrow:false,xanchor:'left',yanchor:'middle',font:{size:18}});
});
layout.annotations=annotations;
Plotly.newPlot('g',traces,layout,{staticPlot:true,displayModeBar:false});
</script></body></html>
